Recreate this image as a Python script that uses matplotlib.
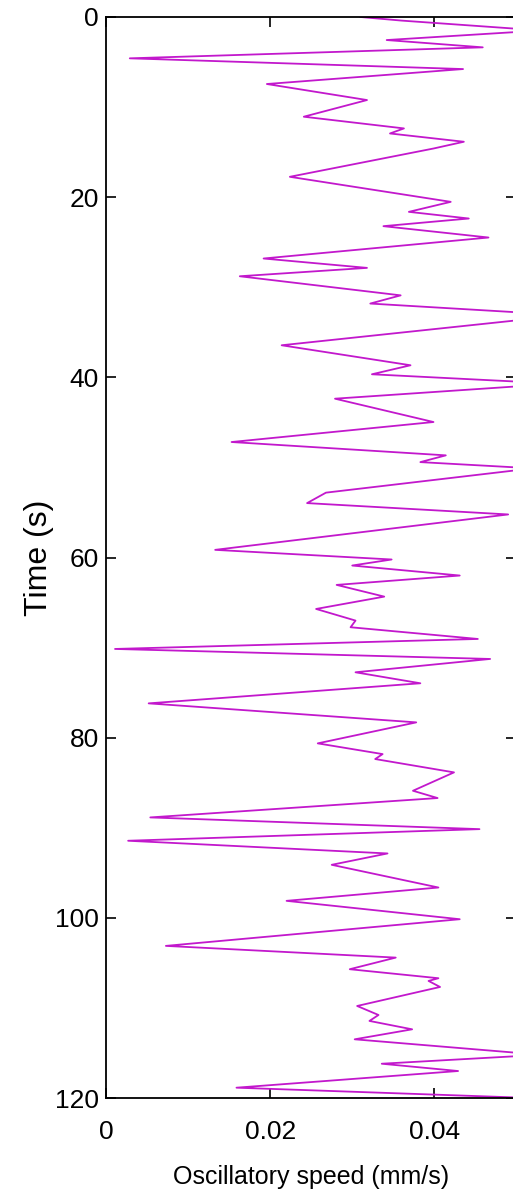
import matplotlib
matplotlib.use("Agg")
import matplotlib.pyplot as plt

# turning points of the speed trace (time in s, speed in mm/s)
time_s = [0.0, 0.4, 1.5, 2.56, 3.37, 4.59, 5.78, 7.44, 9.22, 11.07,
          12.37, 12.93, 13.85, 14.6, 17.74, 20.52, 21.63, 22.37, 23.22, 24.48,
          26.81, 27.85, 28.78, 30.9, 31.81, 33.1, 36.44, 38.66, 39.66, 40.7,
          42.37, 44.96, 47.18, 48.66, 49.41, 50.1, 52.8, 53.96, 55.22, 59.15,
          60.22, 60.89, 62.0, 63.04, 64.34, 65.71, 67.0, 67.74, 69.04, 70.15,
          71.26, 72.74, 73.96, 76.19, 78.3, 80.63, 81.82, 82.37, 83.85, 85.89,
          86.7, 88.85, 90.15, 91.44, 92.85, 94.11, 96.63, 98.11, 100.15, 103.11,
          104.41, 105.7, 106.7, 107.0, 107.67, 109.78, 110.78, 111.44, 112.37, 113.48,
          115.2, 116.19, 117.0, 118.85, 120.0]
speed = [0.031, 0.036, 0.053, 0.0342, 0.0459, 0.0029, 0.0435, 0.0196, 0.0318, 0.0241,
         0.0363, 0.0346, 0.0436, 0.0399, 0.0224, 0.0420, 0.0369, 0.0442, 0.0338, 0.0466,
         0.0192, 0.0318, 0.0163, 0.0359, 0.0322, 0.056, 0.0214, 0.0371, 0.0324, 0.055,
         0.0279, 0.0399, 0.0153, 0.0414, 0.0383, 0.052, 0.0268, 0.0245, 0.0490, 0.0133,
         0.0348, 0.0300, 0.0431, 0.0281, 0.0339, 0.0256, 0.0304, 0.0298, 0.0453, 0.0011,
         0.0468, 0.0304, 0.0383, 0.0052, 0.0378, 0.0258, 0.0337, 0.0328, 0.0424, 0.0374,
         0.0404, 0.0054, 0.0455, 0.0027, 0.0343, 0.0275, 0.0405, 0.0220, 0.0431, 0.0073,
         0.0353, 0.0297, 0.0405, 0.0393, 0.0407, 0.0306, 0.0332, 0.0321, 0.0373, 0.0303,
         0.053, 0.0336, 0.0429, 0.0159, 0.052]

x_ticks = [0, 0.02, 0.04]
x_tick_labels = ["0", "0.02", "0.04"]
y_ticks = [0, 20, 40, 60, 80, 100, 120]

font = ["Liberation Sans", "DejaVu Sans"]

fig = plt.figure(figsize=(5.13, 11.96), dpi=100)
ax = fig.add_axes([0.2066, 0.0819, 0.8, 0.9039])

ax.plot(speed, time_s, color="#c218cc", lw=1.3)

ax.set_xlim(0, 0.05)
ax.set_ylim(120, 0)
ax.set_xticks(x_ticks)
ax.set_xticklabels(x_tick_labels)
ax.set_yticks(y_ticks)

ax.tick_params(direction="in", length=7, width=1.2, top=True, right=True,
               labelsize=19)
ax.tick_params(axis="x", pad=16)
ax.tick_params(axis="y", pad=5)
for lbl in ax.get_xticklabels() + ax.get_yticklabels():
    lbl.set_family(font)
for sp in ax.spines.values():
    sp.set_linewidth(1.3)

ax.set_xlabel("Oscillatory speed (mm/s)", family=font, fontsize=18, labelpad=15)
ax.set_ylabel("Time (s)", family=font, fontsize=23, labelpad=1)

fig.savefig("out.png", dpi=100)
